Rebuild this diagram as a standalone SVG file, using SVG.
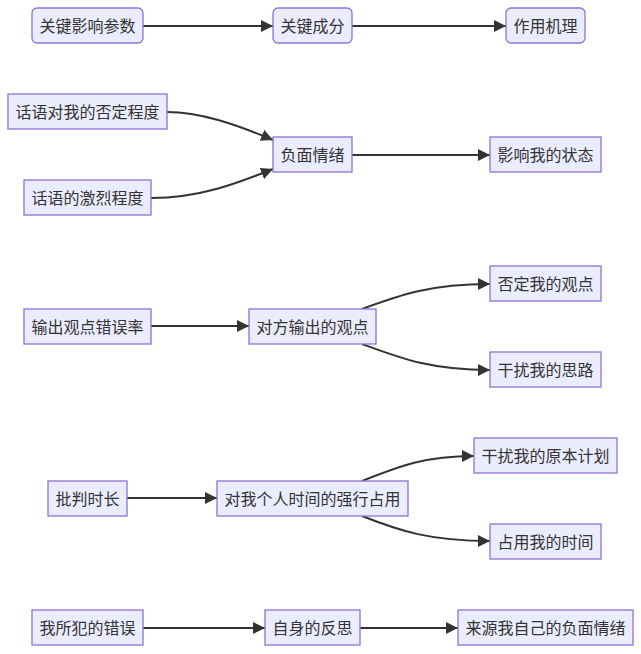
<svg xmlns="http://www.w3.org/2000/svg" width="641" height="654" viewBox="0 0 641 654">
<style>
.n rect{fill:#ECECFF;stroke:#9370DB;stroke-width:1.3}
.n text{font-family:"Noto Sans CJK SC","Noto Sans",sans-serif;font-size:16px;fill:#333;text-anchor:middle;dominant-baseline:central}
.e path{fill:none;stroke:#333;stroke-width:2}
</style>
<defs>
<marker id="ar" viewBox="0 0 10 10" refX="10" refY="5" markerWidth="12" markerHeight="12" markerUnits="userSpaceOnUse" orient="auto">
<path d="M0,0 L10,5 L0,10 z" fill="#333"/>
</marker>
</defs>
<rect width="641" height="654" fill="#fff"/>
<g class="e">
<path d="M143,26 L273,26" marker-end="url(#ar)"/>
<path d="M352,26 L506,26" marker-end="url(#ar)"/>
<path d="M167,112 C200,112 235,124 273,140" marker-end="url(#ar)"/>
<path d="M151,198 C200,198 238,183 273,169" marker-end="url(#ar)"/>
<path d="M352,155 L490,155" marker-end="url(#ar)"/>
<path d="M151,326 L249,326" marker-end="url(#ar)"/>
<path d="M362,309 C400,295 430,284 490,284" marker-end="url(#ar)"/>
<path d="M362,344 C400,358 430,370 490,370" marker-end="url(#ar)"/>
<path d="M127,498 L217,498" marker-end="url(#ar)"/>
<path d="M362,481 C400,466 425,456 474,456" marker-end="url(#ar)"/>
<path d="M362,516 C400,531 430,541 490,541" marker-end="url(#ar)"/>
<path d="M143,628 L265,628" marker-end="url(#ar)"/>
<path d="M360,628 L458,628" marker-end="url(#ar)"/>
</g>
<g id="n1" class="n"><rect x="32" y="8" width="111" height="35" rx="5"/><text x="87.5" y="24.5">关键影响参数</text></g>
<g id="n2" class="n"><rect x="273" y="8" width="79" height="35" rx="5"/><text x="312.5" y="24.5">关键成分</text></g>
<g id="n3" class="n"><rect x="506" y="8" width="79" height="35" rx="5"/><text x="545.5" y="24.5">作用机理</text></g>
<g id="n4" class="n"><rect x="8" y="94" width="159" height="35"/><text x="87.5" y="110.5">话语对我的否定程度</text></g>
<g id="n5" class="n"><rect x="24" y="180" width="127" height="35"/><text x="87.5" y="196.5">话语的激烈程度</text></g>
<g id="n6" class="n"><rect x="273" y="137" width="79" height="35"/><text x="312.5" y="153.5">负面情绪</text></g>
<g id="n7" class="n"><rect x="490" y="137" width="111" height="35"/><text x="545.5" y="153.5">影响我的状态</text></g>
<g id="n8" class="n"><rect x="24" y="309" width="127" height="35"/><text x="87.5" y="325.5">输出观点错误率</text></g>
<g id="n9" class="n"><rect x="249" y="309" width="127" height="35"/><text x="312.5" y="325.5">对方输出的观点</text></g>
<g id="n10" class="n"><rect x="490" y="266" width="111" height="35"/><text x="545.5" y="282.5">否定我的观点</text></g>
<g id="n11" class="n"><rect x="490" y="352" width="111" height="35"/><text x="545.5" y="368.5">干扰我的思路</text></g>
<g id="n12" class="n"><rect x="48" y="481" width="79" height="35"/><text x="87.5" y="497.5">批判时长</text></g>
<g id="n13" class="n"><rect x="217" y="481" width="191" height="35"/><text x="312.5" y="497.5">对我个人时间的强行占用</text></g>
<g id="n14" class="n"><rect x="474" y="438" width="143" height="35"/><text x="545.5" y="454.5">干扰我的原本计划</text></g>
<g id="n15" class="n"><rect x="490" y="524" width="111" height="35"/><text x="545.5" y="540.5">占用我的时间</text></g>
<g id="n16" class="n"><rect x="32" y="610" width="111" height="35"/><text x="87.5" y="626.5">我所犯的错误</text></g>
<g id="n17" class="n"><rect x="265" y="610" width="95" height="35"/><text x="312.5" y="626.5">自身的反思</text></g>
<g id="n18" class="n"><rect x="458" y="610" width="175" height="35"/><text x="545.5" y="626.5">来源我自己的负面情绪</text></g>
</svg>
